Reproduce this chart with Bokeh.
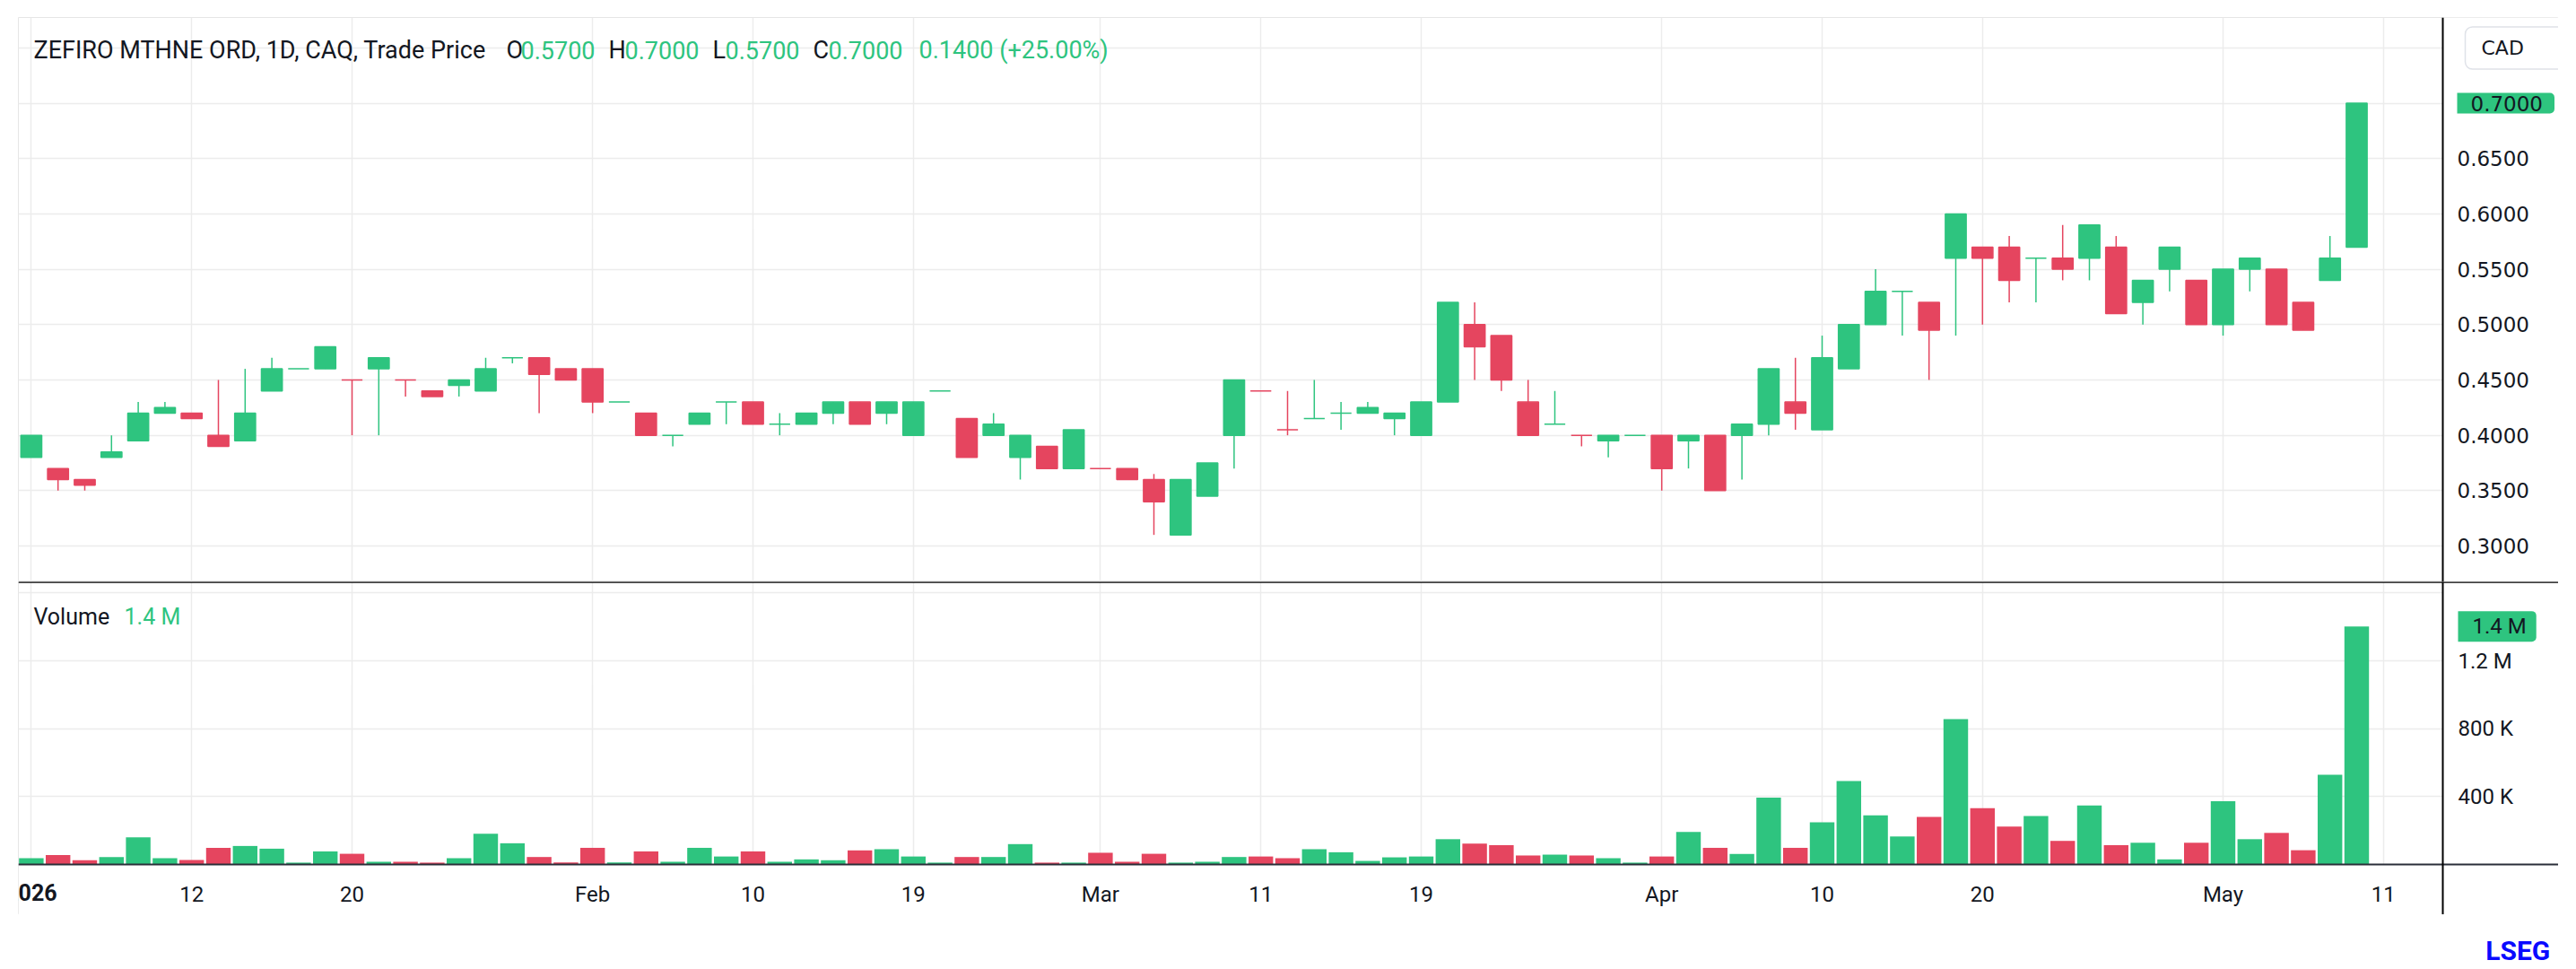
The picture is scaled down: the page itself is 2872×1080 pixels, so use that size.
from bokeh.plotting import figure
from bokeh.models import (ColumnDataSource, Range1d, FixedTicker, NumeralTickFormatter, Label, Span,
                          BoxAnnotation)
from bokeh.layouts import column
from bokeh.embed import file_html
from bokeh.resources import INLINE

# ---------------- data ----------------
opens = [0.38, 0.37, 0.36, 0.38, 0.395, 0.42, 0.42, 0.40, 0.395, 0.44,
         0.46, 0.46, 0.45, 0.46, 0.45, 0.44, 0.445, 0.44, 0.47, 0.47,
         0.46, 0.46, 0.43, 0.42, 0.40, 0.41, 0.43, 0.43, 0.41, 0.41,
         0.42, 0.43, 0.42, 0.40, 0.44, 0.415, 0.40, 0.38, 0.39, 0.37,
         0.37, 0.37, 0.36, 0.31, 0.345, 0.40, 0.44, 0.405, 0.415, 0.42,
         0.42, 0.415, 0.40, 0.43, 0.50, 0.49, 0.43, 0.41, 0.40, 0.395,
         0.40, 0.40, 0.395, 0.40, 0.40, 0.41, 0.43, 0.405, 0.46, 0.50,
         0.53, 0.52, 0.56, 0.57, 0.57, 0.56, 0.56, 0.56, 0.57, 0.52,
         0.55, 0.54, 0.50, 0.55, 0.55, 0.52, 0.54, 0.57]
highs = [0.40, 0.37, 0.36, 0.40, 0.43, 0.43, 0.42, 0.45, 0.46, 0.47,
         0.46, 0.48, 0.45, 0.47, 0.45, 0.44, 0.45, 0.47, 0.47, 0.47,
         0.46, 0.46, 0.43, 0.42, 0.40, 0.42, 0.43, 0.43, 0.42, 0.42,
         0.43, 0.43, 0.43, 0.43, 0.44, 0.415, 0.42, 0.40, 0.39, 0.405,
         0.37, 0.37, 0.365, 0.36, 0.375, 0.45, 0.44, 0.44, 0.45, 0.43,
         0.43, 0.42, 0.43, 0.52, 0.52, 0.49, 0.45, 0.44, 0.40, 0.40,
         0.40, 0.40, 0.40, 0.40, 0.41, 0.46, 0.47, 0.49, 0.50, 0.55,
         0.53, 0.52, 0.60, 0.57, 0.58, 0.56, 0.59, 0.59, 0.58, 0.54,
         0.57, 0.54, 0.55, 0.56, 0.55, 0.52, 0.58, 0.70]
lows = [0.38, 0.35, 0.35, 0.38, 0.395, 0.42, 0.415, 0.39, 0.395, 0.44,
        0.46, 0.46, 0.40, 0.40, 0.435, 0.435, 0.435, 0.44, 0.465, 0.42,
        0.45, 0.42, 0.43, 0.40, 0.39, 0.41, 0.41, 0.41, 0.40, 0.41,
        0.41, 0.41, 0.41, 0.40, 0.44, 0.38, 0.40, 0.36, 0.37, 0.37,
        0.37, 0.36, 0.31, 0.31, 0.345, 0.37, 0.44, 0.40, 0.415, 0.405,
        0.42, 0.40, 0.40, 0.43, 0.45, 0.44, 0.40, 0.41, 0.39, 0.38,
        0.40, 0.35, 0.37, 0.35, 0.36, 0.40, 0.405, 0.405, 0.46, 0.50,
        0.49, 0.45, 0.49, 0.50, 0.52, 0.52, 0.54, 0.54, 0.51, 0.50,
        0.53, 0.50, 0.49, 0.53, 0.50, 0.495, 0.54, 0.57]
closes = [0.40, 0.36, 0.355, 0.385, 0.42, 0.425, 0.415, 0.39, 0.42, 0.46,
          0.46, 0.48, 0.45, 0.47, 0.45, 0.435, 0.45, 0.46, 0.47, 0.455,
          0.45, 0.43, 0.43, 0.40, 0.40, 0.42, 0.43, 0.41, 0.41, 0.42,
          0.43, 0.41, 0.43, 0.43, 0.44, 0.38, 0.41, 0.40, 0.37, 0.405,
          0.37, 0.36, 0.34, 0.36, 0.375, 0.45, 0.44, 0.405, 0.415, 0.42,
          0.425, 0.42, 0.43, 0.52, 0.48, 0.45, 0.40, 0.41, 0.40, 0.40,
          0.40, 0.37, 0.40, 0.35, 0.41, 0.46, 0.42, 0.47, 0.50, 0.53,
          0.53, 0.495, 0.60, 0.56, 0.54, 0.56, 0.55, 0.59, 0.51, 0.54,
          0.57, 0.50, 0.55, 0.56, 0.50, 0.495, 0.56, 0.70]
volumes = [37000, 56000, 25000, 44000, 160000, 37000, 26000, 98000, 109000, 93000,
           11000, 77000, 63000, 16000, 16000, 11000, 37000, 181000, 125000, 44000,
           12000, 98000, 12000, 77000, 16000, 98000, 47000, 77000, 16000, 30000,
           25000, 83000, 90000, 47000, 11000, 44000, 44000, 120000, 11000, 11000,
           69000, 16000, 63000, 11000, 16000, 44000, 47000, 37000, 90000, 72000,
           21000, 42000, 47000, 149000, 123000, 114000, 53000, 58000, 53000, 37000,
           11000, 47000, 192000, 98000, 62000, 394000, 98000, 248000, 492000, 290000,
           165000, 280000, 856000, 332000, 223000, 285000, 139000, 348000, 114000, 128000,
           30000, 128000, 373000, 149000, 186000, 84000, 529000, 1403000]

tick_idx = [0, 6, 12, 21, 27, 33, 40, 46, 52, 61, 67, 73, 82, 88]
tick_labels = ["2026", "12", "20", "Feb", "10", "19", "Mar", "11", "19", "Apr", "10", "20", "May", "11"]
price_ticks = [0.30, 0.35, 0.40, 0.45, 0.50, 0.55, 0.60, 0.65, 0.70, 0.75]
vol_ticks = [400000, 800000, 1200000, 1600000]
vol_tick_labels = ["400 K", "800 K", "1.2 M", "1.6 M"]
instrument = "ZEFIRO MTHNE ORD, 1D, CAQ, Trade Price"
currency = "CAD"
source_name = "LSEG"

# ---------------- styling ----------------
UP = "#2EC47F"
DOWN = "#E5455F"
TXT = "#131722"
GRID = "#ececec"
BORDER = "#e6e6e6"
FONT = "Roboto"
AXFONT = "DejaVu Sans"

n = len(closes)
xs = list(range(n))
up = []
for i in range(n):
    if closes[i] > opens[i]:
        up.append(True)
    elif closes[i] < opens[i]:
        up.append(False)
    else:
        up.append(i == 0 or closes[i] >= closes[i - 1])
colors = [UP if u else DOWN for u in up]
src = ColumnDataSource(dict(
    x=xs, open=opens, high=highs, low=lows, close=closes,
    top=[max(o, c) for o, c in zip(opens, closes)],
    bottom=[min(o, c) for o, c in zip(opens, closes)],
    color=colors, volume=volumes))

# page-pixel helpers (layout only)
def px_x(px):
    return (px - 34.4) / 29.8

def py_price(py):
    return 0.70 + (114.5 - py) / 1233.75

def py_vol(py):
    return (963.0 - py) * 5287.0

AXIS_X = px_x(2723)
x_range = Range1d(px_x(20), px_x(2852))

def strip_ticks(a):
    a.major_tick_in = 0
    a.major_tick_out = 0
    a.minor_tick_in = 0
    a.minor_tick_out = 0

# ---------------- price pane ----------------
p1 = figure(width=2852, height=648, x_range=x_range,
            y_range=Range1d(py_price(648), py_price(19)),
            output_backend="svg", toolbar_location=None,
            x_axis_location=None, y_axis_location="right",
            min_border_left=20, min_border_right=0, min_border_top=19, min_border_bottom=0,
            outline_line_color=BORDER,
            background_fill_color="white", border_fill_color="white")
p1.xgrid.ticker = FixedTicker(ticks=tick_idx)
p1.ygrid.ticker = FixedTicker(ticks=price_ticks)
for g in (p1.xgrid, p1.ygrid):
    g.grid_line_color = GRID
    g.grid_line_width = 1.5
p1.add_layout(BoxAnnotation(left=AXIS_X, fill_color="white", fill_alpha=1.0, line_color=None,
                            level="underlay"))
ax = p1.yaxis[0]
ax.fixed_location = AXIS_X
ax.ticker = FixedTicker(ticks=price_ticks)
ax.formatter = NumeralTickFormatter(format="0.0000")
ax.major_label_overrides = {0.70: "", 0.75: ""}
ax.axis_line_color = "black"
ax.axis_line_width = 2
strip_ticks(ax)
ax.major_label_standoff = 16
ax.major_label_text_font = AXFONT
ax.major_label_text_font_size = "23px"
ax.major_label_text_color = TXT

p1.segment(x0="x", y0="low", x1="x", y1="high", line_color="color", line_width=1.5, source=src)
p1.vbar(x="x", width=0.78, top="top", bottom="bottom", fill_color="color",
        line_color="color", line_width=1.5, source=src)

# header
last = n - 1
chg = closes[last] - closes[last - 1]
pct = chg / closes[last - 1] * 100
vcol = UP if up[last] else DOWN
hy = py_price(55)
parts = [
    (instrument, TXT, 37),
    ("O", TXT, 564), (f"{opens[last]:.4f}", vcol, 580),
    ("H", TXT, 678), (f"{highs[last]:.4f}", vcol, 696),
    ("L", TXT, 794), (f"{lows[last]:.4f}", vcol, 808),
    ("C", TXT, 906), (f"{closes[last]:.4f}", vcol, 923),
    (f"{chg:.4f} ({pct:+.2f}%)", vcol, 1024),
]
for text, col, px in parts:
    p1.add_layout(Label(x=px_x(px), y=hy, text=text, text_color=col, text_font=FONT,
                        text_font_size="27px", text_align="left", text_baseline="middle"))

# currency box and last price tag on the axis
p1.add_layout(Label(x=px_x(2748), y=py_price(53), text=currency, text_color=TXT, text_font=AXFONT,
                    text_font_size="22px", text_align="left", text_baseline="middle",
                    background_fill_color="white", border_line_color="#dfe2e8", border_line_width=1.5,
                    padding=dict(left=18, right=46, top=11, bottom=11), border_radius=8))
p1.add_layout(Label(x=px_x(2739), y=closes[last], text=f"{closes[last]:.4f}", text_color=TXT,
                    text_font=AXFONT, text_font_size="23px", text_align="left", text_baseline="middle",
                    background_fill_color=UP, border_line_color=None,
                    padding=dict(left=15, right=13, top=3, bottom=3),
                    border_radius=dict(top_left=0, top_right=5, bottom_right=5, bottom_left=0)))

# ---------------- volume pane ----------------
p2 = figure(width=2852, height=371, x_range=x_range,
            y_range=Range1d(py_vol(1019), py_vol(648)),
            output_backend="svg", toolbar_location=None, y_axis_location="right",
            min_border_left=20, min_border_right=0, min_border_top=0, min_border_bottom=0,
            outline_line_color=BORDER,
            background_fill_color="white", border_fill_color="white")
p2.xgrid.ticker = FixedTicker(ticks=tick_idx)
p2.ygrid.ticker = FixedTicker(ticks=vol_ticks)
for g in (p2.xgrid, p2.ygrid):
    g.grid_line_color = GRID
    g.grid_line_width = 1.5
p2.add_layout(BoxAnnotation(left=AXIS_X, fill_color="white", fill_alpha=1.0, line_color=None,
                            level="underlay"))
p2.add_layout(BoxAnnotation(top=0, fill_color="white", fill_alpha=1.0, line_color=None,
                            level="underlay"))
p2.vbar(x="x", width=0.92, top="volume", bottom=0, fill_color="color", line_color=None, source=src)
p2.add_layout(Span(location=py_vol(648), dimension="width", line_color="black", line_width=2.5))

xa = p2.xaxis[0]
xa.fixed_location = 0
xa.ticker = FixedTicker(ticks=tick_idx)
xa.major_label_overrides = {t: ("" if i == 0 else lab) for i, (t, lab) in enumerate(zip(tick_idx, tick_labels))}
xa.axis_line_color = "#2a2e39"
xa.axis_line_width = 2
strip_ticks(xa)
xa.major_label_standoff = 19
xa.major_label_text_font = FONT
xa.major_label_text_font_size = "24px"
xa.major_label_text_color = TXT

ya = p2.yaxis[0]
ya.fixed_location = AXIS_X
ya.ticker = FixedTicker(ticks=vol_ticks)
ya.major_label_overrides = {t: ("" if t == 1600000 else lab) for t, lab in zip(vol_ticks, vol_tick_labels)}
ya.axis_line_color = "black"
ya.axis_line_width = 2
strip_ticks(ya)
ya.major_label_standoff = 17
ya.major_label_text_font = FONT
ya.major_label_text_font_size = "24px"
ya.major_label_text_color = TXT

def fmt_vol(v):
    return f"{v / 1e6:.1f} M" if v >= 1e6 else f"{v / 1e3:.0f} K"

# year label (bold) on the time axis
p2.add_layout(Label(x=tick_idx[0], y=py_vol(994), text=tick_labels[0], text_color=TXT, text_font=FONT,
                    text_font_size="25px", text_font_style="bold", text_align="center",
                    text_baseline="middle"))

# volume legend
vy = py_vol(687)
p2.add_layout(Label(x=px_x(37), y=vy, text="Volume", text_color=TXT, text_font=FONT,
                    text_font_size="25px", text_align="left", text_baseline="middle"))
p2.add_layout(Label(x=px_x(138), y=vy, text=fmt_vol(volumes[last]), text_color=vcol, text_font=FONT,
                    text_font_size="25px", text_align="left", text_baseline="middle"))
# last volume tag
p2.add_layout(Label(x=px_x(2740), y=volumes[last], text=fmt_vol(volumes[last]), text_color=TXT,
                    text_font=FONT, text_font_size="24px", text_align="left", text_baseline="middle",
                    background_fill_color=vcol, border_line_color=None,
                    padding=dict(left=16, right=11, top=3, bottom=3),
                    border_radius=dict(top_left=0, top_right=5, bottom_right=5, bottom_left=0)))

# ---------------- footer (source logo) ----------------
p3 = figure(width=2870, height=58, x_range=Range1d(0, 2870), y_range=Range1d(0, 58),
            output_backend="svg", toolbar_location=None,
            x_axis_location=None, y_axis_location=None,
            min_border_left=0, min_border_right=0, min_border_top=0, min_border_bottom=0,
            outline_line_color=None, background_fill_color="white", border_fill_color="white")
p3.xgrid.visible = False
p3.ygrid.visible = False
p3.add_layout(Label(x=2770, y=18, text=source_name, text_color="#0a0aff", text_font=FONT,
                    text_font_size="30px", text_font_style="bold", text_align="left",
                    text_baseline="middle"))

layout = column(p1, p2, p3, spacing=0)
open("out.html", "w").write(file_html(layout, INLINE))
